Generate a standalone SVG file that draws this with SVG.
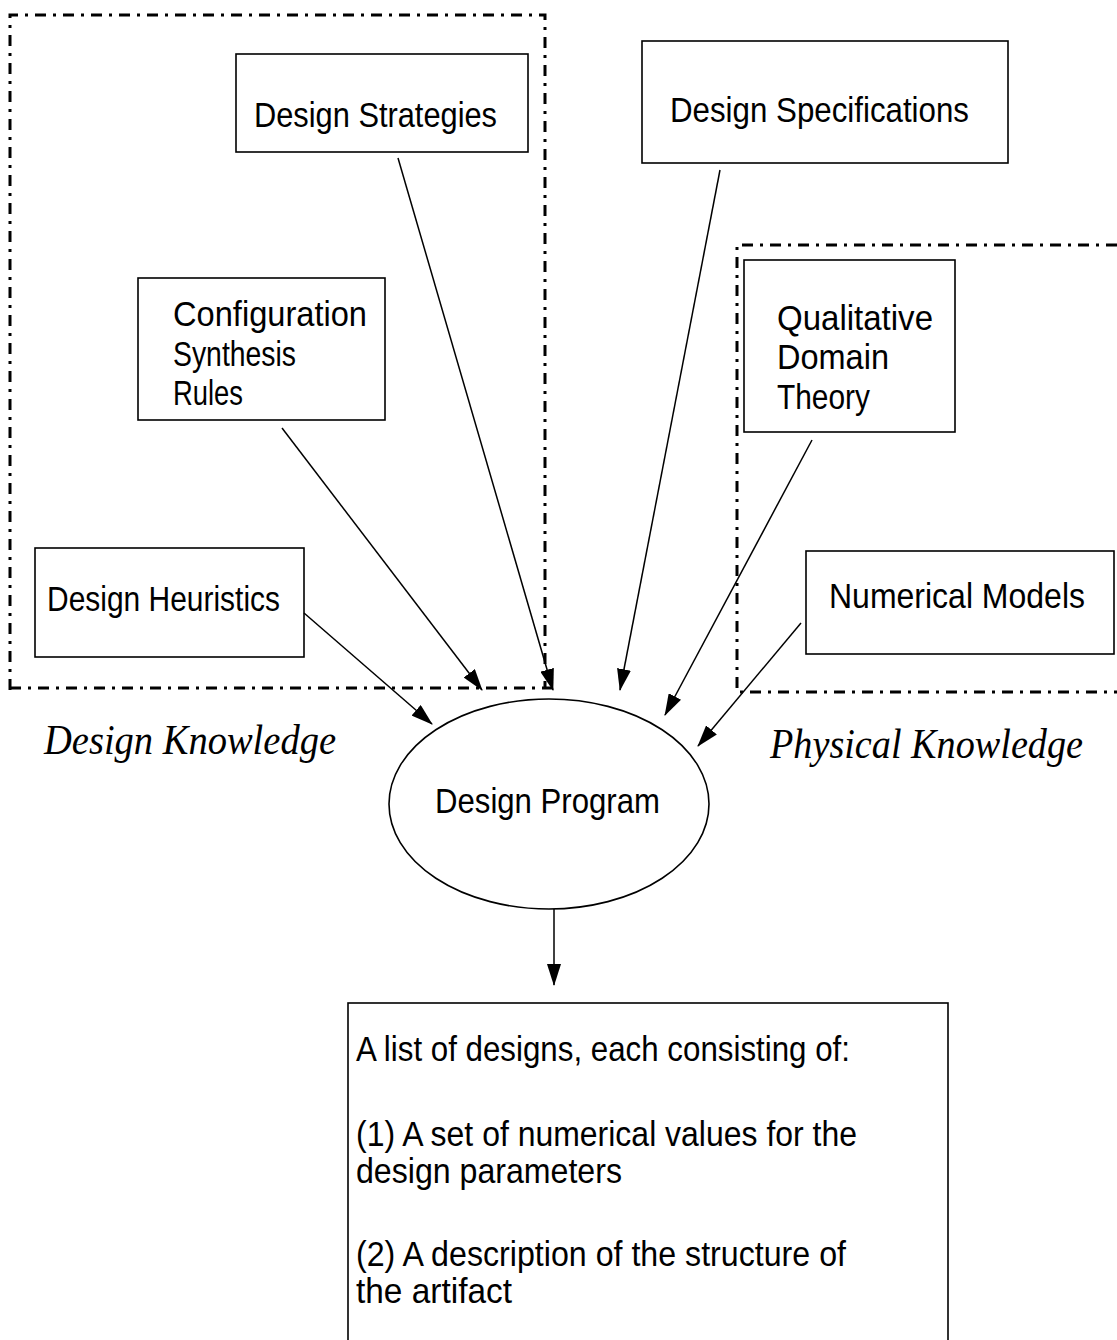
<svg xmlns="http://www.w3.org/2000/svg" width="1117" height="1340" viewBox="0 0 1117 1340">
  <style>
    .box { fill: #fff; stroke: #000; stroke-width: 1.6; }
    .group { fill: none; stroke: #000; stroke-width: 3; stroke-dasharray: 11 7 3 7; }
    .lbl { font-family: "Liberation Sans", Arial, sans-serif; font-size: 35px; fill: #000; }
    .cap { font-family: "Liberation Serif", "Times New Roman", serif; font-style: italic; font-size: 42px; fill: #000; }
    .edge { fill: none; stroke: #000; stroke-width: 1.5; marker-end: url(#arrow); }
  </style>
  <defs>
    <marker id="arrow" viewBox="0 0 22 14" refX="21" refY="7" markerWidth="22" markerHeight="14" markerUnits="userSpaceOnUse" orient="auto">
      <path d="M0,0 L22,7 L0,14 Z" fill="#000"/>
    </marker>
  </defs>
  <rect width="1117" height="1340" fill="#fff"/>

  <!-- knowledge groupings -->
  <g id="design-knowledge">
    <path class="group" d="M10,690 L10,15 L545,15 L545,688"/>
    <path class="group" d="M10,688 L555,688"/>
    <text class="cap" x="44" y="754" textLength="292" lengthAdjust="spacingAndGlyphs">Design Knowledge</text>
  </g>
  <g id="physical-knowledge">
    <path class="group" d="M1117,245 L737,245 L737,692 L1117,692"/>
    <text class="cap" x="770" y="758" textLength="313" lengthAdjust="spacingAndGlyphs">Physical Knowledge</text>
  </g>

  <g id="design-strategies">
    <rect class="box" x="236" y="54" width="292" height="98"/>
    <text class="lbl" x="254" y="127" textLength="243" lengthAdjust="spacingAndGlyphs">Design Strategies</text>
  </g>
  <g id="design-specifications">
    <rect class="box" x="642" y="41" width="366" height="122"/>
    <text class="lbl" x="670" y="122" textLength="299" lengthAdjust="spacingAndGlyphs">Design Specifications</text>
  </g>
  <g id="configuration-synthesis-rules">
    <rect class="box" x="138" y="278" width="247" height="142"/>
    <text class="lbl" x="173" y="326" textLength="194" lengthAdjust="spacingAndGlyphs">Configuration</text>
    <text class="lbl" x="173" y="366" textLength="123" lengthAdjust="spacingAndGlyphs">Synthesis</text>
    <text class="lbl" x="173" y="405" textLength="70" lengthAdjust="spacingAndGlyphs">Rules</text>
  </g>
  <g id="qualitative-domain-theory">
    <rect class="box" x="744" y="260" width="211" height="172"/>
    <text class="lbl" x="777" y="330" textLength="156" lengthAdjust="spacingAndGlyphs">Qualitative</text>
    <text class="lbl" x="777" y="369" textLength="112" lengthAdjust="spacingAndGlyphs">Domain</text>
    <text class="lbl" x="777" y="409" textLength="93" lengthAdjust="spacingAndGlyphs">Theory</text>
  </g>
  <g id="design-heuristics">
    <rect class="box" x="35" y="548" width="269" height="109"/>
    <text class="lbl" x="47" y="611" textLength="233" lengthAdjust="spacingAndGlyphs">Design Heuristics</text>
  </g>
  <g id="numerical-models">
    <rect class="box" x="806" y="551" width="308" height="103"/>
    <text class="lbl" x="829" y="608" textLength="256" lengthAdjust="spacingAndGlyphs">Numerical Models</text>
  </g>
  <g id="design-program">
    <ellipse class="box" cx="549" cy="804" rx="160" ry="105"/>
    <text class="lbl" x="435" y="813" textLength="225" lengthAdjust="spacingAndGlyphs">Design Program</text>
  </g>
  <g id="design-list">
    <rect class="box" x="348" y="1003" width="600" height="360"/>
    <text class="lbl" x="356" y="1061" textLength="494" lengthAdjust="spacingAndGlyphs">A list of designs, each consisting of:</text>
    <text class="lbl" x="356" y="1146" textLength="501" lengthAdjust="spacingAndGlyphs">(1) A set of numerical values for the</text>
    <text class="lbl" x="356" y="1183" textLength="266" lengthAdjust="spacingAndGlyphs">design parameters</text>
    <text class="lbl" x="356" y="1266" textLength="490" lengthAdjust="spacingAndGlyphs">(2) A description of the structure of</text>
    <text class="lbl" x="356" y="1303" textLength="156" lengthAdjust="spacingAndGlyphs">the artifact</text>
  </g>

  <g id="connectors">
    <line class="edge" x1="304" y1="613" x2="432" y2="724"/>
    <line class="edge" x1="282" y1="428" x2="482" y2="690"/>
    <line class="edge" x1="398" y1="158" x2="553" y2="690"/>
    <line class="edge" x1="720" y1="170" x2="620" y2="690"/>
    <line class="edge" x1="812" y1="440" x2="665" y2="715"/>
    <line class="edge" x1="801" y1="623" x2="698" y2="746"/>
    <line class="edge" x1="554" y1="909" x2="554" y2="985"/>
  </g>
</svg>
